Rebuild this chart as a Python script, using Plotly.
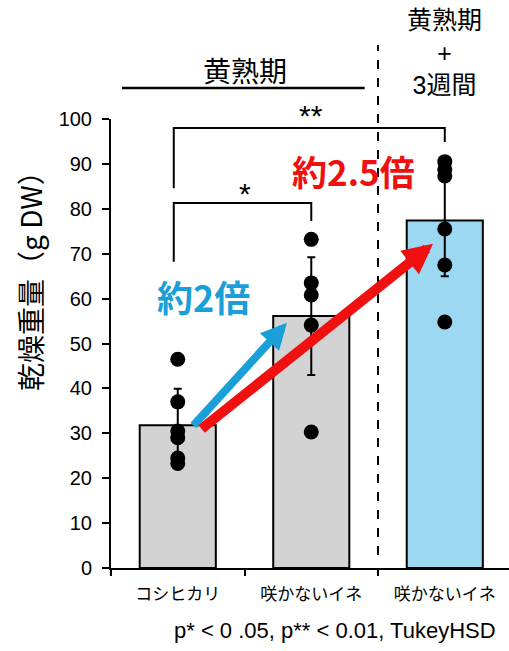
import plotly.graph_objects as go

# Dry weight per plant (g DW)
categories = ["コシヒカリ", "咲かないイネ", "咲かないイネ"]
means = [31.8, 56.1, 77.4]
errors = [8.1, 13.1, 12.4]
bar_colors = ["#d3d3d3", "#d3d3d3", "#9dd8f2"]
points_koshi = [46.5, 37.0, 30.5, 29.0, 24.5, 23.3]
points_nf = [73.2, 63.5, 60.8, 54.1, 30.3]
points_nf3w = [90.5, 88.8, 87.3, 75.5, 67.5, 54.8]
y_ticks = [0, 10, 20, 30, 40, 50, 60, 70, 80, 90, 100]

FONT = "Liberation Sans, Noto Sans CJK JP, sans-serif"
CJK = "Noto Sans CJK JP, sans-serif"

fig = go.Figure()

fig.add_trace(go.Bar(
    x=[0, 1, 2], y=means, width=0.57,
    marker=dict(color=bar_colors, line=dict(color="black", width=2)),
    error_y=dict(type="data", array=errors, color="black", thickness=2, width=4),
    showlegend=False,
))

for i, pts in enumerate([points_koshi, points_nf, points_nf3w]):
    fig.add_trace(go.Scatter(
        x=[i] * len(pts), y=pts, mode="markers",
        marker=dict(color="black", size=15),
        cliponaxis=False, showlegend=False,
    ))

fig.update_xaxes(
    range=[-0.5, 2.481], tickvals=[0, 1, 2], ticktext=categories,
    ticks="", showline=True, linecolor="black", linewidth=2,
    showgrid=False, zeroline=False, ticklabelstandoff=10,
    tickfont=dict(family=CJK, size=17, color="black"),
    minor=dict(tickvals=[-0.5, 0.5, 1.5], ticks="outside", ticklen=6,
               tickcolor="black", tickwidth=2),
)
fig.update_yaxes(
    range=[0, 100], tickvals=y_ticks, ticks="outside", ticklen=7,
    tickwidth=2, tickcolor="black", showline=True, linecolor="black",
    linewidth=2, showgrid=False, zeroline=False, ticklabelstandoff=6,
    tickfont=dict(family=FONT, size=20, color="black"),
)

shapes = []
line = dict(color="black", width=2)
# x axis stub left of the y axis
shapes.append(dict(type="line", xref="x", yref="y", x0=-0.55, x1=-0.5, y0=0, y1=0, line=line))
# significance brackets
shapes.append(dict(type="path", xref="x", yref="y",
                   path="M -0.03 84.6 L -0.03 98 L 2.0 98 L 2.0 94.9", line=line))
shapes.append(dict(type="path", xref="x", yref="y",
                   path="M -0.03 68.2 L -0.03 81.3 L 1.0 81.3 L 1.0 77.3", line=line))
# group separator and header rule
shapes.append(dict(type="line", xref="x", yref="paper", x0=1.5, x1=1.5, y0=0.029, y1=1.165,
                   line=dict(color="black", width=2, dash="dash")))
shapes.append(dict(type="line", xref="x", yref="paper", x0=-0.418, x1=1.40, y0=1.069, y1=1.069,
                   line=dict(color="black", width=2.5)))

annotations = [
    dict(x=0.5, y=1.109, xref="x", yref="paper", text="黄熟期", showarrow=False,
         yanchor="middle", font=dict(family=CJK, size=28, color="black")),
    dict(x=1.995, y=1.147, xref="x", yref="paper", text="黄熟期<br>+<br>3週間", showarrow=False,
         font=dict(family=FONT, size=25, color="black"), align="center", yanchor="middle"),
    dict(x=1.0, y=1.007, xref="x", yref="paper", text="**", showarrow=False, yanchor="middle",
         font=dict(family=FONT, size=30, color="black")),
    dict(x=0.5, y=83.3, xref="x", yref="y", text="*", showarrow=False, yanchor="middle",
         font=dict(family=FONT, size=30, color="black")),
    dict(x=-0.2035, y=0.655, xref="paper", yref="paper", text="乾燥重量（g DW）", showarrow=False,
         xanchor="center", yanchor="middle",
         textangle=-90, font=dict(family=CJK, size=28, color="black")),
    dict(x=1.0, y=0.0, xref="paper", yref="paper", xanchor="right", yanchor="middle",
         text="p* < 0 .05, p** < 0.01, TukeyHSD", showarrow=False, yshift=-62, xshift=-11,
         font=dict(family=FONT, size=22, color="black")),
    dict(x=0.19, y=60.5, xref="x", yref="y", text="<b>約2倍</b>", showarrow=False,
         font=dict(family=CJK, size=36, color="#1a9fd8")),
    dict(x=1.32, y=88.5, xref="x", yref="y", text="<b>約2.5倍</b>", showarrow=False,
         font=dict(family=CJK, size=35, color="#f01010")),
    # fold-change arrows
    dict(x=0.818, y=54.6, ax=0.107, ay=31.4, xref="x", yref="y", axref="x", ayref="y",
         text="", showarrow=True, arrowhead=2, arrowwidth=8, arrowsize=0.65,
         arrowcolor="#1a9fd8", standoff=0),
    dict(x=1.912, y=72.2, ax=0.167, ay=30.7, xref="x", yref="y", axref="x", ayref="y",
         text="", showarrow=True, arrowhead=2, arrowwidth=10, arrowsize=0.6,
         arrowcolor="#f01010", standoff=0),
]

fig.update_layout(
    width=509, height=651,
    margin=dict(l=111, r=0, t=119, b=83),
    plot_bgcolor="white", paper_bgcolor="white",
    shapes=shapes, annotations=annotations,
    bargap=0.4,
)

fig.write_html("out.html")
